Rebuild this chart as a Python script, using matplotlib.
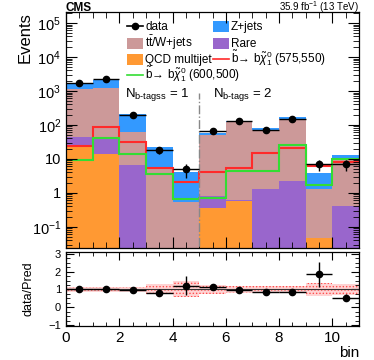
import numpy as np
import matplotlib
matplotlib.use('Agg')
import matplotlib.pyplot as plt
from matplotlib.patches import Rectangle
from matplotlib.ticker import (LogLocator, FixedLocator, FuncFormatter,
                               MultipleLocator, NullFormatter)

plt.rcParams['font.family'] = ['Liberation Sans', 'DejaVu Sans']
plt.rcParams['mathtext.fontset'] = 'custom'
plt.rcParams['mathtext.rm'] = 'Liberation Sans'
plt.rcParams['mathtext.it'] = 'Liberation Sans:italic'
plt.rcParams['mathtext.bf'] = 'Liberation Sans:bold'
plt.rcParams['hatch.linewidth'] = 0.6

# bin edges 0..11
edges = np.arange(12)
centers = edges[:-1] + 0.5

# background processes (stacked bottom -> top)
qcd = [22, 14, 0, 0, 0, 0.36, 0.58, 0, 0, 0.047, 0]
rare = [22, 27, 6.6, 0, 0, 0.46, 0.02, 1.3, 2.25, 0, 0.41]
ttw = [1100, 1190, 55, 5.8, 0.55, 49, 119, 69, 143, 1.25, 9.6]
zjets = [546, 939, 150, 16.2, 3.55, 7, 12, 13, 27, 2.5, 3]

# signals
sig_575_550 = [24, 87, 32, 5.4, 2.1, 4.1, 5.4, 15, 21, 6.2, 8.0]
sig_600_500 = [9.4, 41, 14, 3.6, 0.67, 0.71, 4.4, 4.4, 26, 1.7, 10]

# data
data = [1750, 2250, 200, 18, 5, 66, 128, 71, 150, 7, 7]
data_err = [42, 47, 14, 4.2, 2.2, 8.1, 11.3, 8.4, 12.2, 2.6, 2.6]

# relative uncertainty of the prediction
pred_unc = [0.16, 0.15, 0.15, 0.28, 0.45, 0.24, 0.2, 0.2, 0.2, 0.38, 0.33]

y_major = [0.1, 1, 10, 100, 1e3, 1e4, 1e5]

c_qcd = '#ff9933'
c_rare = '#9966cc'
c_ttw = '#cc9999'
c_z = '#3399ff'
c_red = '#ff2a2a'
c_green = '#33dd33'

W, H = 374, 360
AX_L, AX_R, AX_T, AX_B = 66, 359, 12, 248

fig = plt.figure(figsize=(W / 100, H / 100), dpi=100)
ax = fig.add_axes([AX_L / W, 1 - AX_B / H, (AX_R - AX_L) / W, (AX_B - AX_T) / H])
rax = fig.add_axes([AX_L / W, 1 - 326 / H, (AX_R - AX_L) / W, 74 / H])


def px2ax(px, py):
    return (px - AX_L) / (AX_R - AX_L), (AX_B - py) / (AX_B - AX_T)


bottom = np.full(11, 1e-4)
for vals, col in [(qcd, c_qcd), (rare, c_rare), (ttw, c_ttw), (zjets, c_z)]:
    top = bottom + np.array(vals)
    ax.stairs(top, edges, baseline=bottom, fill=True, color=col, lw=0)
    bottom = top
pred = bottom

ax.stairs(sig_575_550, edges, baseline=None, color=c_red, lw=1.5)
ax.stairs(sig_600_500, edges, baseline=None, color=c_green, lw=1.5)

ax.errorbar(centers, data, xerr=0.5, yerr=data_err, fmt='o', color='black',
            ms=4.5, lw=1, capsize=0, zorder=5)

ax.plot([5, 5], [0.01, 900], color='#888888', lw=1, ls='-.', zorder=4)

ax.set_yscale('log')
ax.set_xlim(0, 11)
ax.set_ylim(0.024, 2.1e5)


def log_fmt(v, pos):
    k = int(round(np.log10(v)))
    if k == 0:
        return '1'
    if k == 1:
        return '10'
    return r'$10^{%d}$' % k


ax.yaxis.set_major_locator(FixedLocator(y_major))
ax.yaxis.set_minor_locator(LogLocator(base=10, subs=np.arange(2, 10), numticks=100))
ax.yaxis.set_major_formatter(FuncFormatter(log_fmt))
ax.yaxis.set_minor_formatter(NullFormatter())
ax.xaxis.set_major_locator(MultipleLocator(2))
ax.xaxis.set_minor_locator(MultipleLocator(0.5))
ax.tick_params(axis='x', labelbottom=False)
ax.tick_params(which='both', direction='in', top=True, right=True, labelsize=10.5)
ax.tick_params(which='major', length=8)
ax.tick_params(which='minor', length=4)
ax.set_ylabel('Events', fontsize=12, loc='top')
ax.yaxis.set_label_coords(px2ax(33, 0)[0], 1)

ax.text(0, 1.004, 'CMS', transform=ax.transAxes, fontsize=8.5, fontweight='bold',
        ha='left', va='baseline')
ax.text(1, 1.004, r'35.9 fb$^{-1}$ (13 TeV)', transform=ax.transAxes, fontsize=7,
        ha='right', va='baseline')

ax.text(*px2ax(125, 97), r'N$_{\mathrm{b\text{-}tagss}}$ = 1', transform=ax.transAxes,
        fontsize=9.5, ha='left', va='baseline')
ax.text(*px2ax(213, 97), r'N$_{\mathrm{b\text{-}tags}}$ = 2', transform=ax.transAxes,
        fontsize=9.5, ha='left', va='baseline')

# legend drawn by hand: two columns, rows at fixed pixel heights
sig1_label = r'$\mathrm{\tilde{b}}\!\rightarrow\,\mathrm{b}\tilde{\chi}^{0}_{1}$ (575,550)'
sig2_label = r'$\mathrm{\tilde{b}}\!\rightarrow\,\mathrm{b}\tilde{\chi}^{0}_{1}$ (600,500)'
legend_rows = [
    (127, 26, 'marker', 'black', 'data'),
    (127, 43, 'box', c_ttw, r'$\mathrm{t\bar{t}}$/W+jets'),
    (127, 59, 'box', c_qcd, 'QCD multijet'),
    (127, 75, 'line', c_green, sig2_label),
    (213, 26, 'box', c_z, 'Z+jets'),
    (213, 43, 'box', c_rare, 'Rare'),
    (213, 59, 'line', c_red, sig1_label),
]
for x0, y0, kind, col, label in legend_rows:
    xa, ya = px2ax(x0, y0)
    xb, _ = px2ax(x0 + 16, y0)
    if kind == 'box':
        _, yt = px2ax(x0, y0 - 5.5)
        _, yb = px2ax(x0, y0 + 5.5)
        ax.add_patch(Rectangle((xa, yb), xb - xa, yt - yb, transform=ax.transAxes,
                               facecolor=col, edgecolor='none', clip_on=False))
    else:
        ax.plot([xa, xb], [ya, ya], color=col, lw=1.2, transform=ax.transAxes,
                clip_on=False)
        if kind == 'marker':
            ax.plot([(xa + xb) / 2], [ya], 'o', color=col, ms=4.5,
                    transform=ax.transAxes, clip_on=False)
    ax.text(*px2ax(x0 + 18, y0 + 4), label, transform=ax.transAxes, fontsize=8.5,
            ha='left', va='baseline')

# ratio panel
unc = np.array(pred_unc)
rax.stairs(1 + unc, edges, baseline=1 - unc, fill=True, facecolor='#ffd4d4',
           edgecolor='#ff4d4d', hatch='.....', lw=0)
rax.axhline(1, color='#333333', lw=0.8)
ratio = np.array(data) / pred
ratio_err = np.array(data_err) / pred
rax.errorbar(centers, ratio, xerr=0.5, yerr=ratio_err, fmt='o', color='black',
             ms=4.5, lw=1, capsize=0, zorder=5)
rax.set_xlim(0, 11)
rax.set_ylim(-1.05, 3.1)
rax.xaxis.set_major_locator(MultipleLocator(2))
rax.xaxis.set_minor_locator(MultipleLocator(0.5))
rax.yaxis.set_major_locator(MultipleLocator(1))
rax.yaxis.set_minor_locator(MultipleLocator(0.25))
rax.tick_params(which='both', direction='in', top=True, right=True)
rax.tick_params(which='major', length=6)
rax.tick_params(which='minor', length=3)
rax.tick_params(axis='x', labelsize=11)
rax.tick_params(axis='y', labelsize=8)
rax.set_ylabel('data/Pred', fontsize=9)
rax.yaxis.set_label_coords(px2ax(35, 0)[0], 0.5)
rax.set_xlabel('bin', fontsize=11, loc='right', labelpad=1)

for a in (ax, rax):
    for s in a.spines.values():
        s.set_linewidth(0.9)

fig.savefig('out.png', dpi=100)
